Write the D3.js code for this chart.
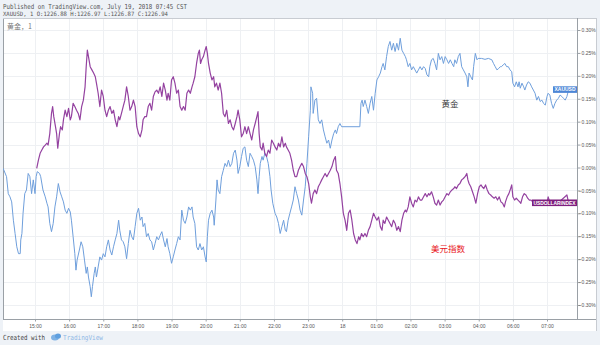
<!DOCTYPE html>
<html>
<head>
<meta charset="utf-8">
<script src="https://cdn.jsdelivr.net/npm/d3@7/dist/d3.min.js"></script>
<style>
  html, body { margin: 0; padding: 0; background: #fff; }
  svg { display: block; }
</style>
</head>
<body>
<svg id="chart" width="600" height="345"></svg>
<script>
// Session minutes after 15:00 (the 05:00 hour is a market break and is not on the axis)
const tickMinutes = [0, 60, 120, 180, 240, 300, 360, 420, 480, 540, 600, 660, 720, 780, 840, 900];
const tickLabels = ["15:00", "16:00", "17:00", "18:00", "19:00", "20:00", "21:00", "22:00", "23:00", "18", "01:00", "02:00", "03:00", "04:00", "06:00", "07:00"];
const pctTicks = [0.30, 0.25, 0.20, 0.15, 0.10, 0.05, 0.00, -0.05, -0.10, -0.15, -0.20, -0.25, -0.30];

// XAUUSD, % change
const goldTime = [-56,-50,-47,-44,-41,-38,-35,-32,-29,-26,-25,-23,-21,-18,-15,-12,-9,-6,-3,0,2,4,8,10,14,18,21,23,26,29,32,35,38,41,44,47,50,53,56,59,62,64,67,70,72,74,78,81,84,87,90,92,94,97,99,101,104,106,108,111,114,117,120,123,126,129,132,135,138,141,144,147,149,152,155,158,161,164,167,170,173,176,179,182,185,188,190,193,
  196,199,202,205,208,211,214,217,220,223,226,229,232,234,237,240,243,246,249,252,255,258,261,264,267,270,273,276,278,281,284,287,290,293,296,299,301,303,305,308,311,314,315,318,320,322,325,328,331,334,337,340,343,346,349,352,355,357,360,363,366,369,372,375,378,381,384,387,390,392,394,396,399,401,404,407,410,413,415,418,422,425,428,431,434,437,440,442,445,448,
  451,454,457,460,463,466,469,472,475,478,481,484,485,488,489,492,495,498,501,504,507,510,513,516,519,522,525,528,530,533,536,539,571,573,575,577,580,583,586,589,592,595,598,601,604,607,610,612,615,618,621,624,627,630,633,636,639,642,645,648,651,653,656,659,662,665,668,671,674,677,680,683,686,689,692,694,697,700,703,
  706,709,712,715,718,721,724,727,730,733,736,738,741,744,747,750,753,756,759,761,763,766,769,771,774,777,779,785,791,797,803,806,809,812,815,818,820,823,826,829,832,835,838,840,843,846,849,851,853,856,859,861,864,867,870,873,876,879,882,885,888,891,894,897,900,902,905,908,911,914,917,920,923,926,929,932,935,938];
const goldPct = [-0.002,-0.020,-0.057,-0.064,-0.075,-0.115,-0.144,-0.173,-0.188,-0.188,-0.158,-0.144,-0.100,-0.057,-0.049,-0.013,-0.020,-0.057,-0.027,-0.057,-0.020,-0.009,-0.013,-0.020,-0.049,-0.064,-0.078,-0.086,-0.122,-0.140,-0.122,-0.086,-0.064,-0.035,-0.053,-0.064,-0.075,-0.093,-0.100,-0.089,-0.097,-0.115,-0.151,-0.188,-0.224,-0.202,-0.180,-0.162,-0.173,-0.202,-0.231,-0.217,-0.239,-0.260,-0.282,-0.260,-0.231,-0.217,-0.239,-0.217,-0.195,-0.202,-0.188,-0.195,-0.173,-0.158,-0.180,-0.191,-0.173,-0.158,-0.144,-0.115,-0.137,-0.158,-0.162,-0.173,-0.199,-0.166,-0.137,-0.151,-0.158,-0.129,-0.100,-0.089,-0.115,-0.108,-0.129,-0.122,
  -0.151,-0.144,-0.158,-0.162,-0.180,-0.166,-0.151,-0.158,-0.148,-0.140,-0.158,-0.173,-0.155,-0.173,-0.188,-0.209,-0.195,-0.180,-0.166,-0.151,-0.158,-0.093,-0.115,-0.122,-0.108,-0.086,-0.093,-0.086,-0.108,-0.122,-0.173,-0.180,-0.166,-0.180,-0.173,-0.195,-0.206,-0.151,-0.115,-0.100,-0.093,-0.108,-0.126,-0.071,-0.027,-0.049,-0.057,-0.020,-0.006,0.009,0.002,0.016,0.002,0.009,0.031,0.038,0.016,-0.013,0.002,0.024,0.042,0.045,0.016,0.002,0.031,0.024,0.016,0.002,-0.027,-0.057,-0.020,0.009,0.024,0.016,0.031,0.024,0.009,-0.020,-0.049,-0.078,-0.100,-0.108,-0.122,-0.144,-0.129,-0.115,-0.137,-0.140,-0.115,-0.100,
  -0.086,-0.071,-0.042,-0.057,-0.071,-0.093,-0.104,-0.071,-0.042,0.009,0.067,0.125,0.176,0.162,0.118,0.147,0.151,0.104,0.096,0.104,0.082,0.067,0.053,0.060,0.042,0.060,0.074,0.082,0.074,0.089,0.096,0.089,0.089,0.140,0.147,0.133,0.147,0.133,0.118,0.140,0.155,0.125,0.162,0.191,0.198,0.206,0.220,0.227,0.213,0.242,0.264,0.275,0.256,0.271,0.253,0.271,0.256,0.282,0.256,0.249,0.242,0.235,0.220,0.227,0.213,0.220,0.213,0.206,0.213,0.220,0.213,0.220,0.216,0.202,0.198,0.220,0.235,0.238,0.227,
  0.213,0.249,0.235,0.242,0.227,0.242,0.235,0.227,0.235,0.227,0.220,0.235,0.227,0.242,0.249,0.220,0.213,0.206,0.198,0.176,0.206,0.198,0.191,0.220,0.249,0.235,0.238,0.238,0.236,0.238,0.235,0.227,0.220,0.213,0.216,0.220,0.220,0.224,0.227,0.220,0.220,0.213,0.209,0.184,0.176,0.187,0.176,0.187,0.173,0.184,0.176,0.169,0.180,0.187,0.184,0.176,0.169,0.162,0.147,0.155,0.144,0.147,0.140,0.136,0.155,0.162,0.158,0.140,0.129,0.140,0.147,0.151,0.158,0.155,0.151,0.147,0.155,0.170];

// USDOLLARINDEX, % change
const dxyTime = [3,6,9,12,15,18,21,23,26,29,31,33,36,38,40,43,45,48,50,53,56,59,62,64,67,70,73,76,79,82,85,88,90,92,94,97,100,103,106,108,111,114,117,120,123,126,129,132,135,138,141,144,147,149,152,155,158,161,164,167,170,173,176,179,182,185,188,190,193,
  196,199,202,205,208,211,214,217,220,223,226,229,232,234,237,240,243,246,249,252,255,258,261,264,267,270,273,276,278,281,284,287,289,291,293,296,299,301,303,305,308,311,314,316,319,322,325,328,331,334,337,340,343,346,349,352,355,357,360,363,366,369,372,375,378,381,384,387,390,392,394,396,399,401,404,407,410,413,416,419,422,425,428,431,434,437,440,442,445,448,
  451,454,457,460,463,466,469,472,475,478,481,484,486,489,492,495,498,501,504,507,510,513,516,519,522,525,528,530,533,536,539,542,545,548,551,554,557,560,563,566,569,571,574,577,580,583,586,589,592,595,598,601,604,607,610,612,615,618,621,624,627,630,633,636,639,642,645,648,651,653,656,659,662,665,668,671,674,677,680,683,686,689,692,694,697,700,703,
  706,709,712,715,718,721,724,727,730,733,736,738,741,744,747,750,753,756,759,761,763,766,769,772,775,778,781,784,786,789,792,795,798,801,804,807,810,813,816,819,822,825,827,830,833,836,838,840,843,846,849,852,854,857,860,863,866,869,872,875,885,900,902,905,920,935,938];
const dxyPct = [-0.002,0.016,0.031,0.038,0.045,0.049,0.053,0.049,0.074,0.118,0.133,0.111,0.089,0.074,0.042,0.074,0.089,0.082,0.104,0.125,0.111,0.129,0.104,0.111,0.140,0.133,0.125,0.118,0.104,0.133,0.147,0.176,0.220,0.256,0.242,0.220,0.213,0.206,0.198,0.184,0.162,0.133,0.169,0.155,0.125,0.111,0.125,0.133,0.118,0.125,0.104,0.089,0.111,0.104,0.118,0.133,0.147,0.176,0.155,0.125,0.133,0.147,0.133,0.089,0.074,0.067,0.082,0.104,0.111,
  0.111,0.133,0.140,0.125,0.155,0.165,0.169,0.162,0.176,0.155,0.184,0.169,0.147,0.162,0.147,0.191,0.198,0.184,0.162,0.169,0.133,0.125,0.133,0.125,0.162,0.169,0.162,0.176,0.184,0.198,0.227,0.249,0.256,0.227,0.235,0.242,0.256,0.264,0.249,0.227,0.206,0.191,0.198,0.176,0.184,0.169,0.184,0.162,0.118,0.111,0.125,0.096,0.104,0.089,0.082,0.096,0.111,0.125,0.104,0.067,0.074,0.089,0.074,0.089,0.074,0.060,0.082,0.096,0.111,0.122,0.074,0.045,0.038,0.053,0.031,0.024,0.038,0.031,0.060,0.053,0.045,0.038,0.053,0.045,0.067,0.045,0.053,0.045,0.038,0.031,
  0.016,-0.006,-0.020,-0.020,-0.006,0.002,0.009,0.002,-0.013,-0.020,-0.035,-0.064,-0.078,-0.057,-0.049,-0.057,-0.042,-0.035,-0.027,-0.020,-0.013,-0.020,-0.013,-0.006,0.002,0.016,0.024,-0.006,-0.013,-0.035,-0.064,-0.100,-0.115,-0.137,-0.100,-0.093,-0.115,-0.144,-0.158,-0.166,-0.151,-0.158,-0.144,-0.151,-0.144,-0.151,-0.137,-0.129,-0.115,-0.100,-0.108,-0.115,-0.108,-0.129,-0.137,-0.115,-0.122,-0.108,-0.115,-0.122,-0.129,-0.115,-0.122,-0.137,-0.129,-0.140,-0.115,-0.100,-0.093,-0.097,-0.086,-0.064,-0.078,-0.086,-0.071,-0.075,-0.064,-0.071,-0.071,-0.064,-0.057,-0.064,-0.057,-0.060,-0.053,-0.064,-0.078,
  -0.082,-0.071,-0.082,-0.075,-0.071,-0.064,-0.057,-0.060,-0.053,-0.049,-0.046,-0.042,-0.046,-0.038,-0.035,-0.027,-0.024,-0.020,-0.013,-0.027,-0.035,-0.042,-0.053,-0.064,-0.078,-0.057,-0.042,-0.038,-0.042,-0.046,-0.038,-0.049,-0.057,-0.060,-0.064,-0.067,-0.064,-0.071,-0.064,-0.075,-0.078,-0.086,-0.075,-0.064,-0.057,-0.046,-0.038,-0.064,-0.071,-0.067,-0.071,-0.075,-0.078,-0.064,-0.057,-0.060,-0.067,-0.071,-0.071,-0.075,-0.075,-0.077,-0.064,-0.075,-0.077,-0.060,-0.077];

const svg = d3.select("#chart");
const W = 600, H = 345;
const pane = { left: 3, right: 577, top: 18, bottom: 319 };

const x = d3.scaleLinear().domain([0, 900]).range([35, 547]);
const y = d3.scaleLinear().domain([-0.30, 0.30]).range([305, 30]);

// page chrome: header and footer strips
svg.append("rect").attr("x", 0).attr("y", 0).attr("width", W).attr("height", H).attr("fill", "#eef2f7");
svg.append("rect").attr("x", pane.left).attr("y", pane.top).attr("width", 597 - pane.left).attr("height", 331 - pane.top).attr("fill", "#fff");

const mono = "'DejaVu Sans Mono', 'Liberation Mono', monospace";
const sans = "'Liberation Sans', Arial, sans-serif";
svg.append("text").attr("x", 3).attr("y", 8.5).attr("font-family", mono).attr("font-size", 6.8).attr("fill", "#555")
  .attr("textLength", 184).attr("lengthAdjust", "spacingAndGlyphs")
  .text("Published on TradingView.com, July 19, 2018 07:45 CST");
svg.append("text").attr("x", 3).attr("y", 15.5).attr("font-family", mono).attr("font-size", 6).attr("fill", "#555")
  .attr("textLength", 165).attr("lengthAdjust", "spacingAndGlyphs")
  .text("XAUUSD, 1 O:1226.88 H:1226.97 L:1226.87 C:1226.94");

svg.append("defs").append("clipPath").attr("id", "pane-clip")
  .append("rect").attr("x", pane.left).attr("y", pane.top).attr("width", pane.right - pane.left).attr("height", pane.bottom - pane.top);

// grid
const grid = svg.append("g").attr("clip-path", "url(#pane-clip)");
grid.selectAll("line.h").data(pctTicks).enter().append("line")
  .attr("x1", pane.left).attr("x2", pane.right)
  .attr("y1", d => Math.round(y(d)) + 0.5).attr("y2", d => Math.round(y(d)) + 0.5)
  .attr("stroke", "#eef0f3").attr("stroke-width", 1);
grid.selectAll("line.v").data(tickMinutes).enter().append("line")
  .attr("y1", pane.top).attr("y2", pane.bottom)
  .attr("x1", d => Math.round(x(d)) + 0.5).attr("x2", d => Math.round(x(d)) + 0.5)
  .attr("stroke", "#eef0f3").attr("stroke-width", 1);

// pane frame
svg.append("line").attr("x1", pane.left + 0.5).attr("x2", pane.left + 0.5).attr("y1", pane.top).attr("y2", pane.bottom).attr("stroke", "#9aa0a6");
svg.append("line").attr("x1", pane.left).attr("x2", 597).attr("y1", pane.top + 0.5).attr("y2", pane.top + 0.5).attr("stroke", "#c8ccd2");
svg.append("line").attr("x1", pane.left).attr("x2", 597).attr("y1", pane.bottom + 0.5).attr("y2", pane.bottom + 0.5).attr("stroke", "#9aa0a6");
svg.append("line").attr("x1", 596.5).attr("x2", 596.5).attr("y1", pane.top).attr("y2", 331).attr("stroke", "#c8ccd2");

// right price axis, labels right-aligned inside the scale strip
const yAxis = d3.axisRight(y).tickValues(pctTicks).tickSize(3).tickPadding(2)
  .tickFormat(d => d3.format(".2f")(d) + "%");
const yg = svg.append("g").attr("transform", `translate(${pane.right + 0.5},0)`).call(yAxis);
yg.select(".domain").attr("stroke", "#9aa0a6").attr("d", `M0,${pane.top}V${pane.bottom}`);
yg.selectAll(".tick line").attr("stroke", "#9aa0a6");
yg.selectAll(".tick text").attr("font-family", sans).attr("font-size", 5).attr("fill", "#555")
  .attr("text-anchor", "end").attr("x", 18.3);

// bottom time axis
const xAxis = d3.axisBottom(x).tickValues(tickMinutes).tickSize(2).tickPadding(3)
  .tickFormat((d, i) => tickLabels[i]);
const xg = svg.append("g").attr("transform", `translate(0,${pane.bottom + 0.5})`).call(xAxis);
xg.select(".domain").remove();
xg.selectAll(".tick line").attr("stroke", "#9aa0a6");
xg.selectAll(".tick text").attr("font-family", sans).attr("font-size", 5).attr("fill", "#555");

// series
const goldData = goldTime.map((t, i) => [t, goldPct[i]]);
const dxyData = dxyTime.map((t, i) => [t, dxyPct[i]]);
const line = d3.line().x(d => x(d[0])).y(d => y(d[1]));
const plot = svg.append("g").attr("clip-path", "url(#pane-clip)");
plot.append("path").datum(goldData).attr("d", line).attr("fill", "none")
  .attr("stroke", "#6f9fdc").attr("stroke-width", 1).attr("stroke-linejoin", "round");
plot.append("path").datum(dxyData).attr("d", line).attr("fill", "none")
  .attr("stroke", "#9442a0").attr("stroke-width", 1.2).attr("stroke-linejoin", "round");

// legend and annotations
svg.append("text").attr("x", 7).attr("y", 29).attr("font-family", "'Noto Sans CJK SC', sans-serif")
  .attr("font-size", 7).attr("fill", "#777").text("黄金，1");
svg.append("text").attr("x", 450).attr("y", 107).attr("text-anchor", "middle").attr("font-family", "'Noto Sans CJK SC', sans-serif")
  .attr("font-size", 8.5).attr("fill", "#333").text("黄金");
svg.append("text").attr("x", 448).attr("y", 252).attr("text-anchor", "middle").attr("font-family", "'Noto Sans CJK SC', sans-serif")
  .attr("font-size", 8.5).attr("fill", "#e8141b").text("美元指数");

// last-value tags on the series ends
function tag(value, label, fill, left) {
  const cy = y(value);
  const g = svg.append("g");
  const w = pane.right - left;
  g.append("rect").attr("x", left).attr("y", cy - 3.3).attr("width", w).attr("height", 6.6).attr("fill", fill);
  g.append("text").attr("x", left + 1.5).attr("y", cy + 1.8)
    .attr("font-family", sans).attr("font-size", 5).attr("font-weight", "bold").attr("fill", "#fff")
    .attr("textLength", w - 3).attr("lengthAdjust", "spacingAndGlyphs").text(label);
}
tag(goldPct[goldPct.length - 1], "XAUUSD", "#4d86d6", 553);
tag(dxyPct[dxyPct.length - 1], "USDOLLARINDEX", "#7e1f7e", 532);

// footer
svg.append("text").attr("x", 3).attr("y", 340).attr("font-family", mono).attr("font-size", 7).attr("fill", "#444")
  .attr("textLength", 42).attr("lengthAdjust", "spacingAndGlyphs").text("Created with");
const logo = svg.append("g").attr("transform", "translate(51,333)");
logo.append("ellipse").attr("cx", 4).attr("cy", 4.5).attr("rx", 4).attr("ry", 3).attr("fill", "#7fb2e5");
logo.append("ellipse").attr("cx", 7).attr("cy", 3).attr("rx", 3).attr("ry", 2.6).attr("fill", "#5f9fdf");
svg.append("text").attr("x", 63).attr("y", 340).attr("font-family", mono).attr("font-size", 7).attr("fill", "#8fb8e6")
  .attr("textLength", 40).attr("lengthAdjust", "spacingAndGlyphs").text("TradingView");
</script>
</body>
</html>
